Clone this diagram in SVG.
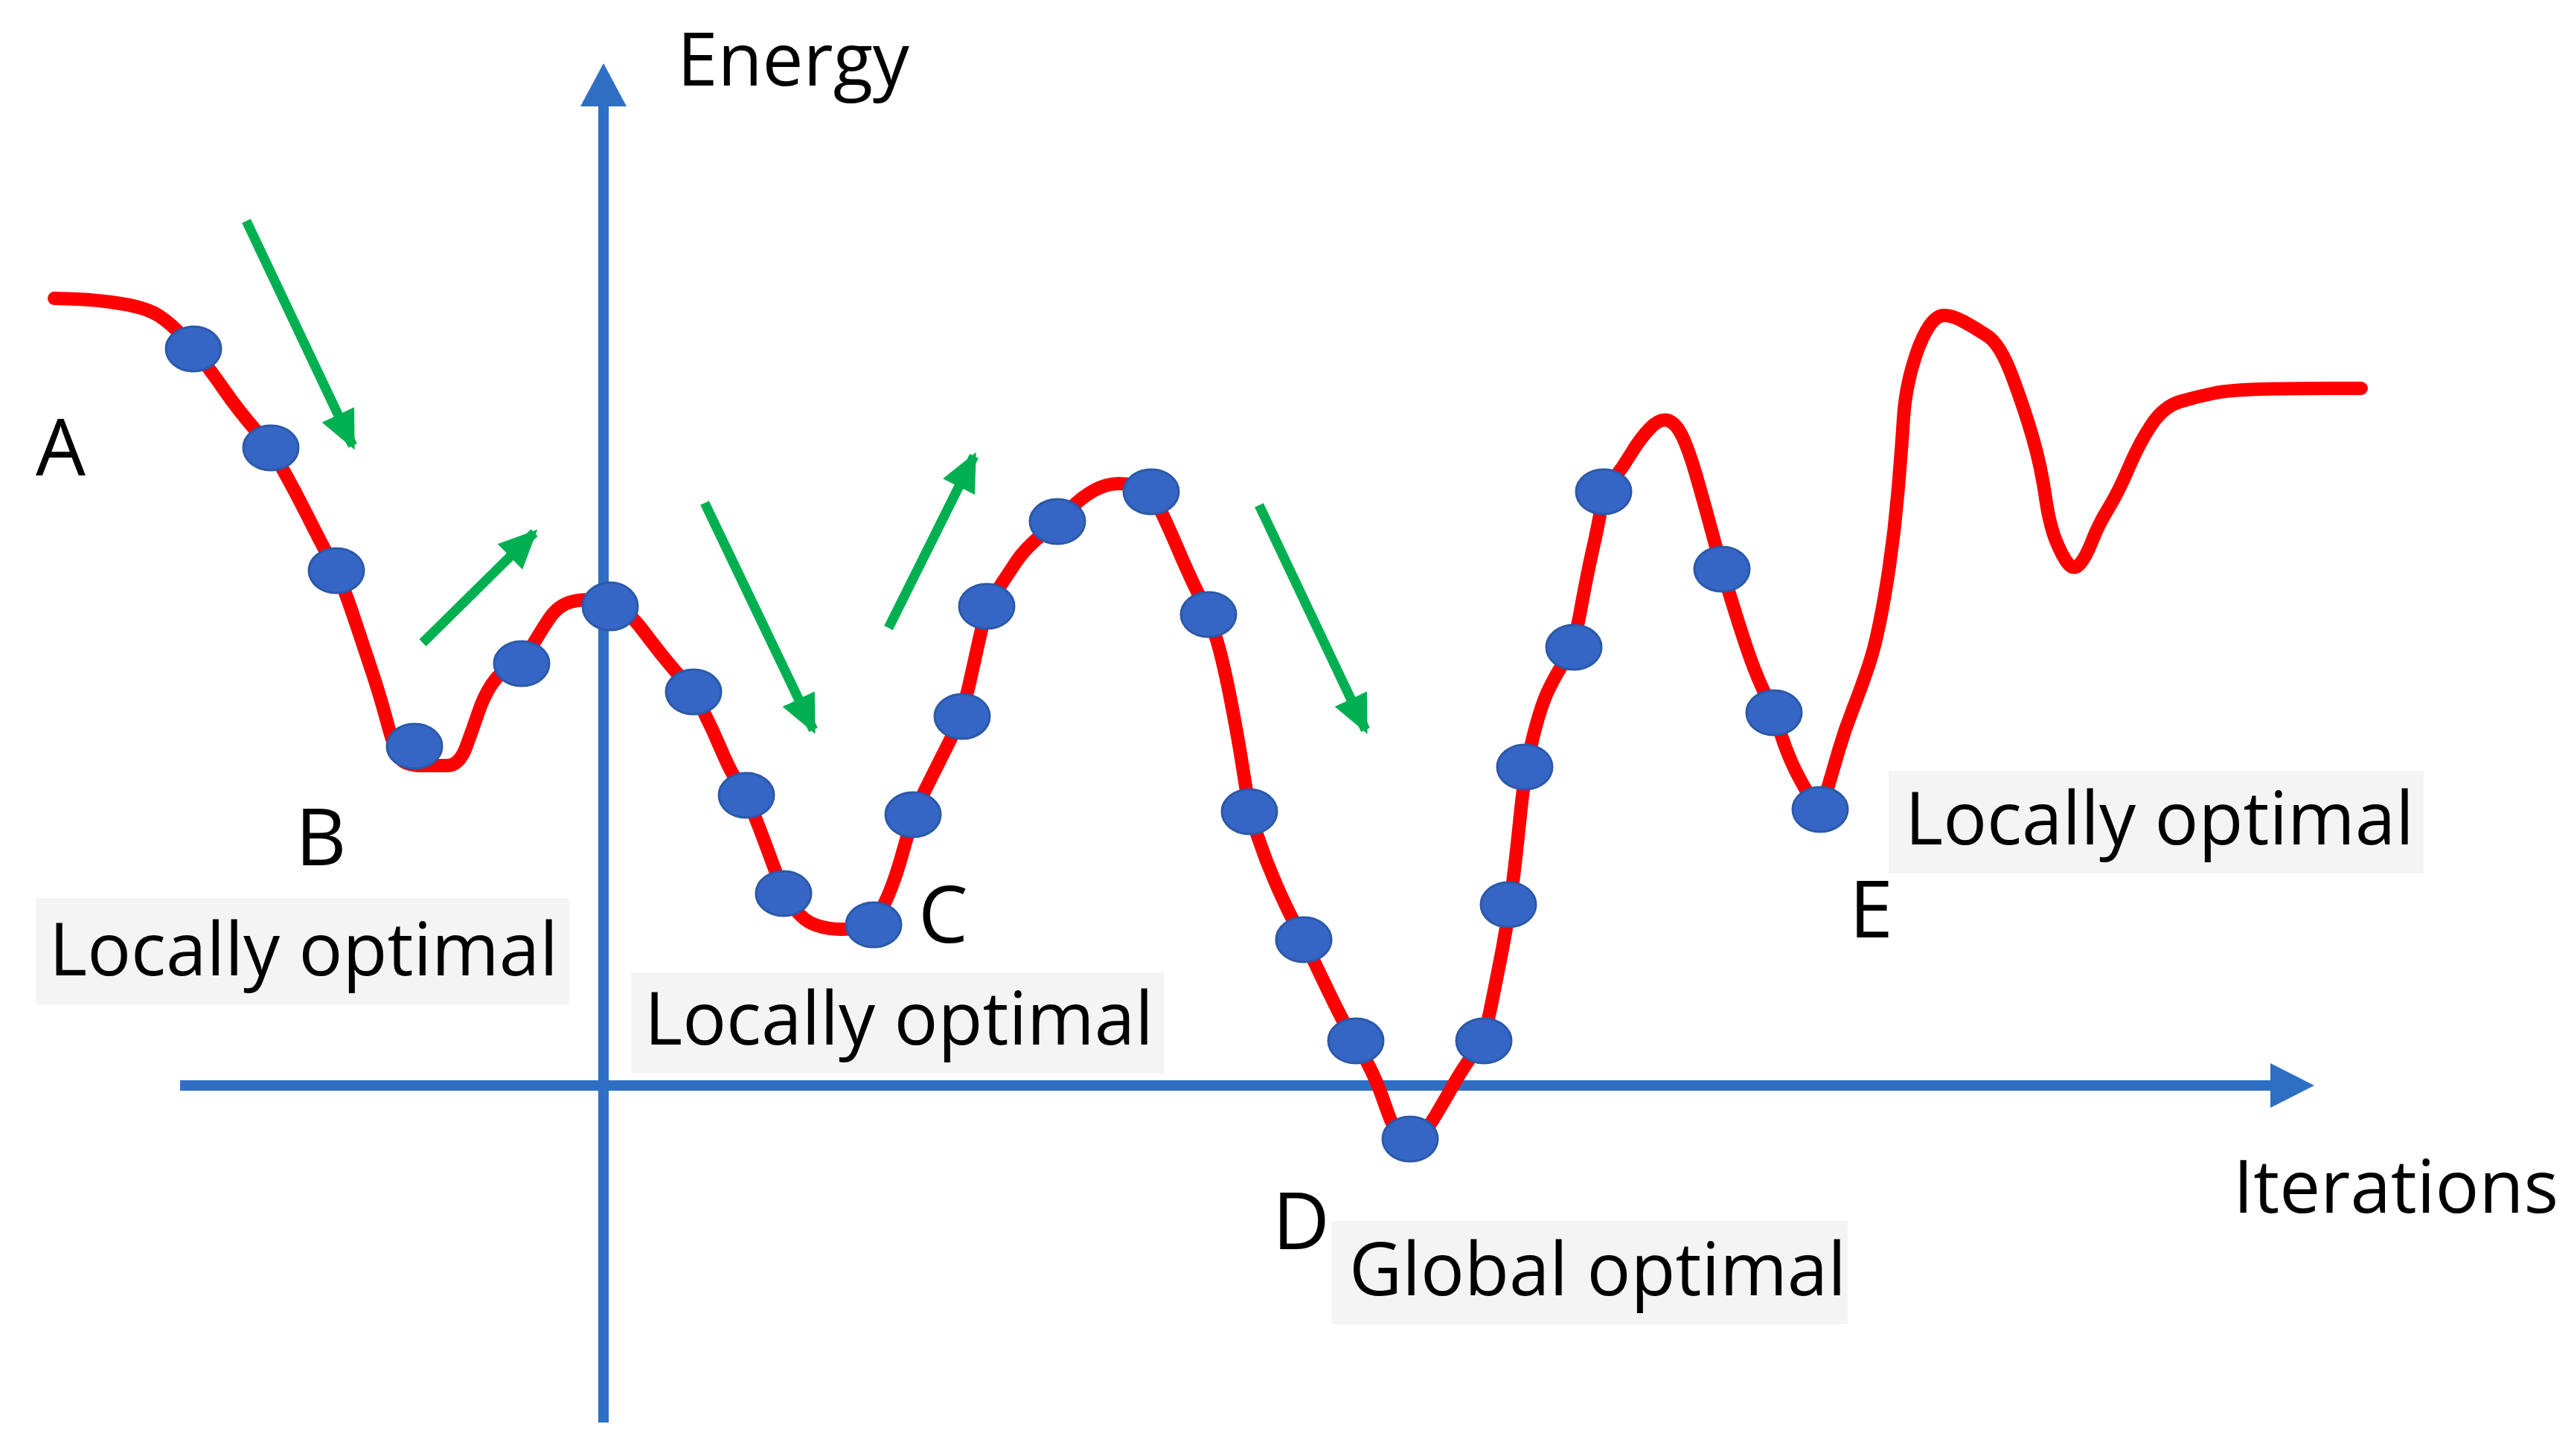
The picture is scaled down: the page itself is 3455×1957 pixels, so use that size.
<svg xmlns="http://www.w3.org/2000/svg" width="3455" height="1957" viewBox="0 0 3455 1957">
<defs>
<style>
.txt{font-family:"Open Sans","Noto Sans","Liberation Sans",sans-serif;fill:#000;}
.lbl{font-size:98px;}
.let{font-size:106px;}
.box{fill:#f4f4f4;}
.axis{stroke:#2e6fc4;stroke-width:14;fill:none;}
.curve{stroke:#ff0000;stroke-width:18;fill:none;stroke-linejoin:round;stroke-linecap:round;}
.dot{fill:#3566c6;stroke:#2c59a8;stroke-width:3;}
.garrow{stroke:#00b050;stroke-width:13;fill:none;marker-end:url(#gh);}
</style>
<marker id="gh" markerUnits="userSpaceOnUse" markerWidth="56" markerHeight="52" refX="46" refY="26" orient="auto">
<path d="M0,2 L52,26 L0,50 Z" fill="#00b050"/>
</marker>
</defs>
<rect width="3455" height="1957" fill="#ffffff"/>

<g id="label-boxes">
<rect class="box" x="48" y="1207" width="717" height="144"/>
<rect class="box" x="848" y="1307" width="716" height="136"/>
<rect class="box" x="1789" y="1641" width="694" height="139"/>
<rect class="box" x="2538" y="1036" width="719" height="138"/>
</g>

<g id="axes">
<line class="axis" x1="811" y1="1912" x2="811" y2="130"/>
<path d="M811,85 L842,143 L780,143 Z" fill="#2e6fc4"/>
<line class="axis" x1="242" y1="1459" x2="3060" y2="1459"/>
<path d="M3110,1459 L3051,1489 L3051,1429 Z" fill="#2e6fc4"/>
</g>

<g id="energy-curve">
<path class="curve" d="M73,401 L102.5,402 Q132,403 165,408.5 Q198,414 214.5,425 Q231,436 245.5,452.5 Q260,469 273,485.5 Q286,502 303,526.5 Q320,551 342,576.5 Q364,602 380.5,631.5 Q397,661 413.5,694 Q430,727 441,747 Q452,767 459.5,785.5 Q467,804 478,837 Q489,870 500,903 Q511,936 522,977 Q533,1018 542,1023.5 Q551,1029 567.5,1029 Q584,1029 600.5,1029 Q617,1029 626,1005 Q635,981 642.5,958.5 Q650,936 661,919.5 Q672,903 686.5,897.5 Q701,892 714,870 Q727,848 738,831.5 Q749,815 765.5,809.5 Q782,804 801,807.5 Q820,811 834,818.5 Q848,826 864.5,848 Q881,870 894.5,886.5 Q908,903 920,916.5 Q932,930 945,955.5 Q958,981 969.5,1008.5 Q981,1036 992,1052.5 Q1003,1069 1014,1096.5 Q1025,1124 1039,1162.5 Q1053,1201 1066.5,1219.5 Q1080,1238 1096.5,1243.5 Q1113,1249 1129.5,1249 Q1146,1249 1160,1246 Q1174,1243 1187.5,1216.5 Q1201,1190 1214,1142.5 Q1227,1095 1241.5,1065.5 Q1256,1036 1274.5,999.5 Q1293,963 1302,922 Q1311,881 1318.5,848 Q1326,815 1340.5,793 Q1355,771 1366,754.5 Q1377,738 1399,719.5 Q1421,701 1437.5,684.5 Q1454,668 1470.5,659 Q1487,650 1503.5,650 Q1520,650 1533.5,655.5 Q1547,661 1558,683 Q1569,705 1583,738 Q1597,771 1610.5,798.5 Q1624,826 1633,853.5 Q1642,881 1653,936.5 Q1664,992 1671.5,1041.5 Q1679,1091 1690,1124 Q1701,1157 1715.5,1190 Q1730,1223 1741,1243 Q1752,1263 1766,1292.5 Q1780,1322 1793.5,1349.5 Q1807,1377 1814.5,1388 Q1822,1399 1836.5,1426.5 Q1851,1454 1862,1487 Q1873,1520 1884,1530 Q1895,1540 1906,1530 Q1917,1520 1930,1498 Q1943,1476 1955.5,1454 Q1968,1432 1981,1415.5 Q1994,1399 2002,1360.5 Q2010,1322 2018.5,1278 Q2027,1234 2032.5,1190 Q2038,1146 2043.5,1091 Q2049,1036 2060,991.5 Q2071,947 2082,925 Q2093,903 2104,886.5 Q2115,870 2124,820.5 Q2133,771 2140.5,738 Q2148,705 2151.5,683 Q2155,661 2168,644.5 Q2181,628 2192,609.5 Q2203,591 2216.5,576.5 Q2230,562 2241,565 Q2252,568 2261,587 Q2270,606 2281,644.5 Q2292,683 2303,724 Q2314,765 2325,801 Q2336,837 2347,870 Q2358,903 2371,930.5 Q2384,958 2393,986 Q2402,1014 2413,1036 Q2424,1058 2435,1075 Q2446,1094 2454.5,1065 Q2463,1036 2471,1008.5 Q2479,981 2490,953 Q2501,925 2512,892 Q2523,859 2534,793 Q2545,727 2550.5,661 Q2556,595 2558,562 Q2560,529 2569,496 Q2578,463 2589,444 Q2600,425 2611,424 Q2622,423 2638.5,432 Q2655,441 2671.5,452 Q2688,463 2704.5,507 Q2721,551 2732,589.5 Q2743,628 2748.5,666.5 Q2754,705 2763,727 Q2772,749 2779.5,758 Q2787,767 2795,758 Q2803,749 2811.5,727 Q2820,705 2833.5,683 Q2847,661 2861,628 Q2875,595 2891.5,570.5 Q2908,546 2930.5,539.5 Q2953,533 2975,528.5 Q2997,524 3041,523 Q3085,522 3129,522 L3173,522"/>
</g>

<g id="points">
<ellipse class="dot" cx="260" cy="469" rx="37" ry="30"/>
<ellipse class="dot" cx="364" cy="602" rx="37" ry="30"/>
<ellipse class="dot" cx="452" cy="767" rx="37" ry="30"/>
<ellipse class="dot" cx="557" cy="1003" rx="37" ry="30"/>
<ellipse class="dot" cx="701" cy="892" rx="37" ry="30"/>
<ellipse class="dot" cx="820" cy="815" rx="37" ry="32"/>
<ellipse class="dot" cx="932" cy="930" rx="37" ry="30"/>
<ellipse class="dot" cx="1003" cy="1069" rx="37" ry="30"/>
<ellipse class="dot" cx="1053" cy="1201" rx="37" ry="30"/>
<ellipse class="dot" cx="1174" cy="1243" rx="37" ry="30"/>
<ellipse class="dot" cx="1227" cy="1095" rx="37" ry="30"/>
<ellipse class="dot" cx="1293" cy="963" rx="37" ry="30"/>
<ellipse class="dot" cx="1326" cy="815" rx="37" ry="30"/>
<ellipse class="dot" cx="1421" cy="701" rx="37" ry="30"/>
<ellipse class="dot" cx="1547" cy="661" rx="37" ry="30"/>
<ellipse class="dot" cx="1624" cy="826" rx="37" ry="30"/>
<ellipse class="dot" cx="1679" cy="1091" rx="37" ry="30"/>
<ellipse class="dot" cx="1752" cy="1263" rx="37" ry="30"/>
<ellipse class="dot" cx="1822" cy="1399" rx="37" ry="30"/>
<ellipse class="dot" cx="1895" cy="1531" rx="37" ry="30"/>
<ellipse class="dot" cx="1994" cy="1399" rx="37" ry="30"/>
<ellipse class="dot" cx="2027" cy="1216" rx="37" ry="30"/>
<ellipse class="dot" cx="2049" cy="1031" rx="37" ry="30"/>
<ellipse class="dot" cx="2115" cy="870" rx="37" ry="30"/>
<ellipse class="dot" cx="2155" cy="661" rx="37" ry="30"/>
<ellipse class="dot" cx="2314" cy="765" rx="37" ry="30"/>
<ellipse class="dot" cx="2384" cy="958" rx="37" ry="30"/>
<ellipse class="dot" cx="2446" cy="1088" rx="37" ry="30"/>
</g>

<g id="direction-arrows">
<line class="garrow" x1="331" y1="297" x2="474" y2="599"/>
<line class="garrow" x1="568" y1="864" x2="718" y2="716"/>
<line class="garrow" x1="947" y1="676" x2="1093" y2="981"/>
<line class="garrow" x1="1194" y1="844" x2="1309" y2="613"/>
<line class="garrow" x1="1692" y1="679" x2="1835" y2="981"/>
</g>

<g id="texts">
<text class="txt lbl" x="910" y="115">Energy</text>
<text class="txt let" x="48" y="639">A</text>
<text class="txt let" x="397" y="1163">B</text>
<text class="txt lbl" x="66" y="1311">Locally optimal</text>
<text class="txt let" x="1234" y="1267">C</text>
<text class="txt lbl" x="866" y="1404">Locally optimal</text>
<text class="txt let" x="1710" y="1679">D</text>
<text class="txt lbl" x="1813" y="1741">Global optimal</text>
<text class="txt let" x="2485" y="1260">E</text>
<text class="txt lbl" x="2560" y="1135">Locally optimal</text>
<text class="txt lbl" x="3001" y="1630">Iterations</text>
</g>
</svg>
